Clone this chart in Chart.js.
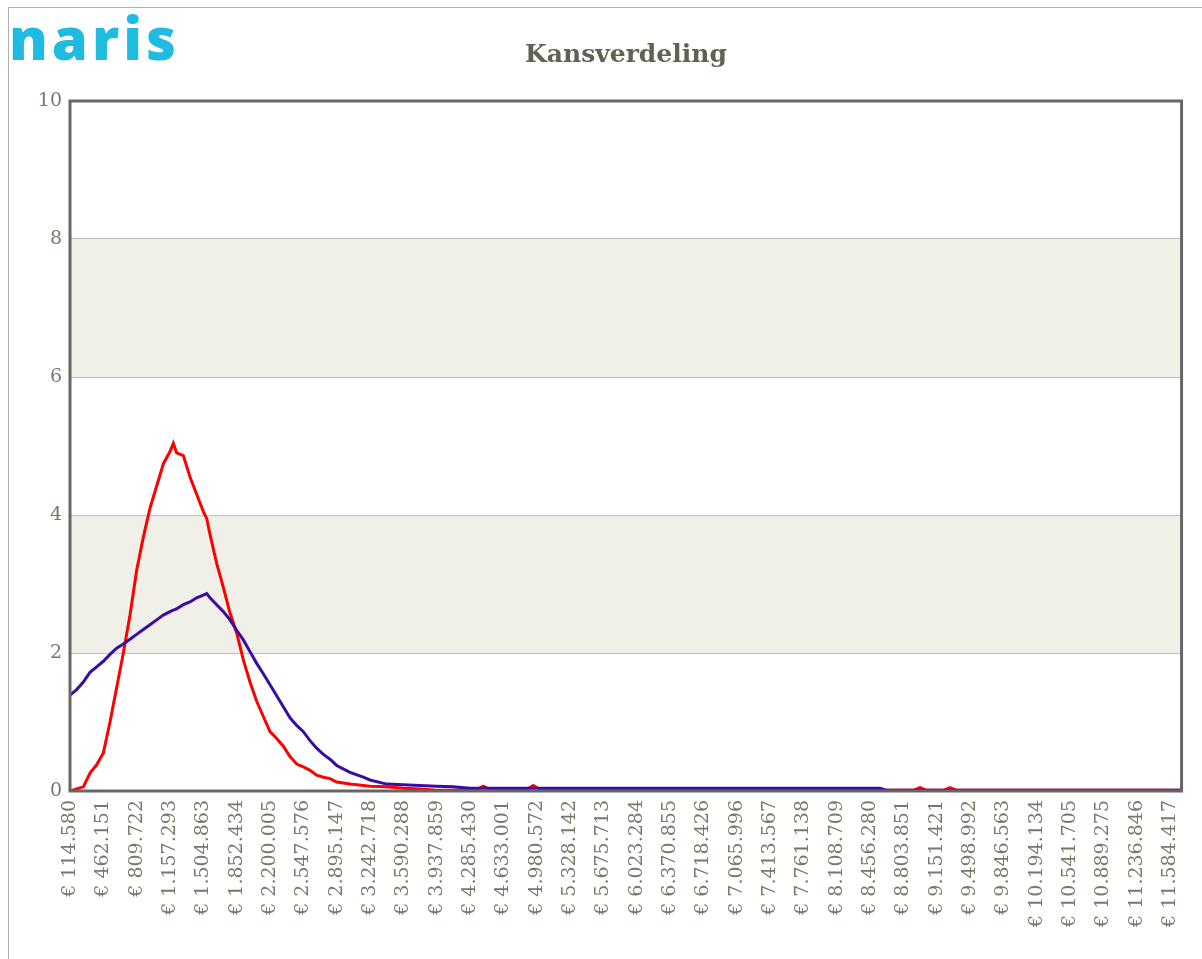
<!DOCTYPE html>
<html>
<head>
    <title>Kansverdeling</title>
    <script src="https://cdn.jsdelivr.net/npm/chart.js"></script>
    <style>
        body { margin: 0; background: #fff; }
        #frame { position: absolute; left: 8px; top: 7px; width: 1300px; height: 1000px; border-left: 1px solid #b0b0b0; border-top: 1px solid #b0b0b0; }
        #logo { position: absolute; left: 9px; top: -2px; font-family: "Open Sans", sans-serif; font-weight: 800; font-size: 58px; letter-spacing: 4px; color: #20bbe0; }
        #titel { position: absolute; left: 70px; width: 1112px; top: 39px; text-align: center; font-family: "DejaVu Serif", serif; font-weight: bold; font-size: 25px; color: #5e6352; }
        #wrap { position: absolute; left: 0; top: 0; width: 1202px; height: 959px; }
    </style>
</head>
<body>
    <div id="wrap"><canvas id="myChart"></canvas></div>
    <div id="frame"></div>
    <div id="logo">naris</div>
    <div id="titel">Kansverdeling</div>
    <script>
        // bedragen (x) en kansen in % per serie
        const bedragen = [114580, 184094, 253608, 323123, 392637, 462151, 531665, 601179, 670694, 740208,
            809722, 879236, 948750, 1018265, 1087779, 1157293, 1192050, 1226807, 1296321, 1365835,
            1435349, 1504863, 1539621, 1574378, 1643892, 1713406, 1782920, 1852434, 1921948, 1991462,
            2060977, 2130491, 2200005, 2269519, 2339033, 2408547, 2478062, 2547576, 2617090, 2686604,
            2756118, 2825632, 2895147, 3034176, 3173205, 3242718, 3416505, 3590288, 3764076, 3937859,
            4111647, 4285430, 4354946, 4424460, 4493975, 4876303, 4945817, 5015331, 7065996, 7622114,
            8317256, 8560555, 8630070, 8908126, 8977641, 9047155, 9220940, 9290454, 9359969, 10541705,
            11688694];

        const kansRood = [0.00, 0.03, 0.06, 0.26, 0.38, 0.55, 1.00, 1.50, 2.00, 2.55,
            3.20, 3.68, 4.10, 4.42, 4.74, 4.92, 5.04, 4.90, 4.86, 4.55,
            4.30, 4.05, 3.95, 3.72, 3.30, 2.95, 2.58, 2.29, 1.90, 1.58,
            1.30, 1.08, 0.86, 0.76, 0.65, 0.50, 0.39, 0.35, 0.30, 0.23,
            0.20, 0.18, 0.13, 0.10, 0.08, 0.07, 0.06, 0.04, 0.03, 0.01,
            0.01, 0.02, 0.02, 0.07, 0.02, 0.02, 0.08, 0.02, 0.02, 0.01,
            0.01, 0.01, 0.01, 0.01, 0.05, 0.01, 0.01, 0.05, 0.01, 0.01,
            0.01];

        const kansBlauw = [1.39, 1.47, 1.58, 1.72, 1.80, 1.88, 1.98, 2.07, 2.13, 2.20,
            2.27, 2.34, 2.41, 2.48, 2.55, 2.60, 2.62, 2.64, 2.70, 2.74,
            2.80, 2.84, 2.86, 2.80, 2.70, 2.60, 2.48, 2.33, 2.19, 2.02,
            1.85, 1.70, 1.54, 1.38, 1.22, 1.06, 0.95, 0.86, 0.73, 0.62,
            0.53, 0.46, 0.37, 0.27, 0.20, 0.16, 0.10, 0.09, 0.08, 0.07,
            0.06, 0.04, 0.04, 0.04, 0.04, 0.04, 0.04, 0.04, 0.04, 0.04,
            0.04, 0.04, 0.01, 0.01, 0.01, 0.01, 0.01, 0.01, 0.01, 0.01,
            0.01];

        const xTicks = [114580, 462151, 809722, 1157293, 1504863, 1852434, 2200005, 2547576, 2895147,
            3242718, 3590288, 3937859, 4285430, 4633001, 4980572, 5328142, 5675713, 6023284, 6370855,
            6718426, 7065996, 7413567, 7761138, 8108709, 8456280, 8803851, 9151421, 9498992, 9846563,
            10194134, 10541705, 10889275, 11236846, 11584417];

        const xMin = 114580;
        const xMax = 11705000;

        const euro = v => '€ ' + String(Math.round(v)).replace(/\B(?=(\d{3})+(?!\d))/g, '.');

        // banden tussen 2-4 en 6-8, plus de kader rond het plotvlak
        const bandPlugin = {
            id: 'banden',
            beforeDraw(chart) {
                const { ctx, chartArea: a, scales: { y } } = chart;
                ctx.save();
                ctx.fillStyle = '#f0f0e8';
                [[2, 4], [6, 8]].forEach(([lo, hi]) => {
                    const top = y.getPixelForValue(hi);
                    ctx.fillRect(a.left, top, a.right - a.left, y.getPixelForValue(lo) - top);
                });
                ctx.restore();
            },
            afterDraw(chart) {
                const { ctx, chartArea: a } = chart;
                ctx.save();
                ctx.strokeStyle = '#666';
                ctx.lineWidth = 3;
                ctx.strokeRect(a.left, a.top, a.right - a.left, a.bottom - a.top);
                ctx.restore();
            }
        };

        const tickFont = { family: 'DejaVu Serif', size: 19 };

        const ctx = document.getElementById('myChart').getContext('2d');
        const myChart = new Chart(ctx, {
            type: 'line',
            data: {
                datasets: [{
                    label: 'blauw',
                    data: bedragen.map((x, i) => ({ x: x, y: kansBlauw[i] })),
                    borderColor: '#3a0ca3',
                    borderWidth: 3,
                    pointRadius: 0,
                    tension: 0
                }, {
                    label: 'rood',
                    data: bedragen.map((x, i) => ({ x: x, y: kansRood[i] })),
                    borderColor: '#ff0000',
                    borderWidth: 3,
                    pointRadius: 0,
                    tension: 0
                }]
            },
            options: {
                responsive: true,
                maintainAspectRatio: false,
                animation: false,
                layout: { padding: { left: 8, right: 20, top: 101, bottom: 0 } },
                plugins: {
                    legend: { display: false },
                    tooltip: { enabled: false }
                },
                scales: {
                    x: {
                        type: 'linear',
                        min: xMin,
                        max: xMax,
                        afterBuildTicks: scale => { scale.ticks = xTicks.map(v => ({ value: v })); },
                        afterFit: scale => { scale.height = 168; },
                        grid: { display: false, drawTicks: false },
                        border: { display: false },
                        ticks: {
                            autoSkip: false,
                            minRotation: 90,
                            maxRotation: 90,
                            padding: 9,
                            color: '#77796a',
                            font: tickFont,
                            callback: v => euro(v)
                        }
                    },
                    y: {
                        min: 0,
                        max: 10,
                        afterFit: scale => { scale.width = 62; },
                        grid: { color: '#c2c2b4', drawTicks: false },
                        border: { display: false },
                        ticks: {
                            stepSize: 2,
                            padding: 8,
                            color: '#77796a',
                            font: tickFont
                        }
                    }
                }
            },
            plugins: [bandPlugin]
        });
    </script>
</body>
</html>
